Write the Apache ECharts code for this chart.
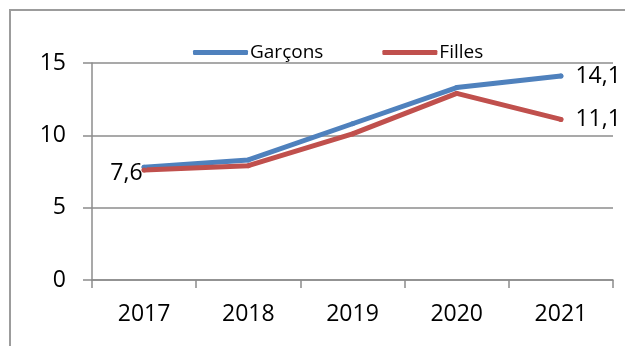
<!DOCTYPE html>
<html>
<head>
<meta charset="utf-8">
<script src="https://cdn.jsdelivr.net/npm/echarts@6/dist/echarts.min.js"></script>
<style>
html,body{margin:0;padding:0;background:#fff;}
#chart{width:625px;height:346px;}
</style>
</head>
<body>
<div id="chart"></div>
<script>
const categories = ['2017', '2018', '2019', '2020', '2021'];
const garcons = [7.8, 8.3, 10.8, 13.3, 14.1];
const filles = [7.6, 7.9, 10.1, 12.9, 11.1];
const yTicks = [0, 5, 10, 15];

const FONT = 'Open Sans';
const chart = echarts.init(document.getElementById('chart'), null, {renderer: 'canvas'});

function fmt(v) { return String(v).replace('.', ','); }
const labelText = {fontFamily: FONT, fontSize: 23, color: '#000'};
const last = categories.length - 1;

const garconsData = garcons.map((v, i) => ({
  value: v,
  label: i === last ? {show: true, position: 'right', distance: 12} : {show: false}
}));
const fillesData = filles.map((v, i) => {
  if (i === 0) return {value: v, label: {show: true, position: 'left', distance: -1, offset: [0, 3]}};
  if (i === last) return {value: v, label: {show: true, position: 'right', distance: 12}};
  return {value: v, label: {show: false}};
});

chart.setOption({
  animation: false,
  textStyle: {fontFamily: FONT},
  graphic: [{
    type: 'rect',
    shape: {x: 10, y: 10, width: 700, height: 400},
    style: {fill: 'none', stroke: '#9c9c9c', lineWidth: 2},
    silent: true
  }],
  legend: {
    left: 188,
    top: 38,
    itemWidth: 55,
    itemHeight: 5,
    itemGap: 59,
    icon: 'roundRect',
    textStyle: {fontFamily: FONT, fontSize: 19, color: '#000', padding: [0, 0, 0, -3]},
    data: ['Garçons', 'Filles']
  },
  grid: {left: 92, right: 12, top: 63, bottom: 66},
  xAxis: {
    type: 'category',
    data: categories,
    boundaryGap: true,
    axisLine: {lineStyle: {color: '#8c8c8c', width: 1.5}},
    axisTick: {show: true, length: 8, lineStyle: {color: '#8c8c8c', width: 1.5}},
    axisLabel: {color: '#000', fontFamily: FONT, fontSize: 23, margin: 23}
  },
  yAxis: {
    type: 'value',
    min: yTicks[0],
    max: yTicks[yTicks.length - 1],
    interval: 5,
    axisLine: {show: true, lineStyle: {color: '#8c8c8c', width: 1.5}},
    axisTick: {show: true, length: 9, lineStyle: {color: '#8c8c8c', width: 1.5}},
    splitLine: {show: true, lineStyle: {color: '#8c8c8c', width: 1.5}},
    axisLabel: {color: '#000', fontFamily: FONT, fontSize: 23, margin: 26}
  },
  series: [
    {
      name: 'Garçons',
      type: 'line',
      data: garconsData,
      symbol: 'circle',
      symbolSize: 5,
      showSymbol: true,
      color: '#4F81BD',
      itemStyle: {color: '#4F81BD', borderWidth: 0},
      lineStyle: {color: '#4F81BD', width: 5, cap: 'round', join: 'round'},
      label: Object.assign({formatter: p => fmt(p.value)}, labelText)
    },
    {
      name: 'Filles',
      type: 'line',
      data: fillesData,
      symbol: 'circle',
      symbolSize: 5,
      showSymbol: true,
      color: '#C0504D',
      itemStyle: {color: '#C0504D', borderWidth: 0},
      lineStyle: {color: '#C0504D', width: 5, cap: 'round', join: 'round'},
      label: Object.assign({formatter: p => fmt(p.value)}, labelText)
    }
  ]
});
</script>
</body>
</html>
